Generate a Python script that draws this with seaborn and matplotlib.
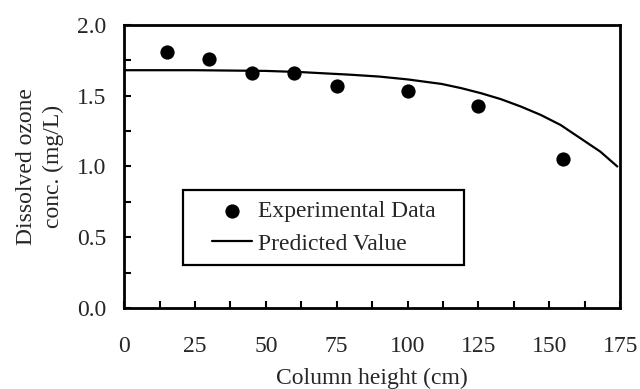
import matplotlib
matplotlib.use("Agg")
import matplotlib.pyplot as plt
from matplotlib.patches import Rectangle
from matplotlib.ticker import MultipleLocator
import seaborn as sns
import pandas as pd

# Measured dissolved ozone along the column
height_cm = [15, 30, 45, 60, 75, 100, 125, 155]
ozone_mg_l = [1.81, 1.76, 1.66, 1.66, 1.57, 1.53, 1.43, 1.05]

# Model prediction
pred_height_cm = [0, 25, 50, 62, 80, 90, 100, 112, 119, 126, 133, 140, 147,
                  154, 161, 168, 174]
pred_ozone_mg_l = [1.68, 1.68, 1.675, 1.667, 1.648, 1.635, 1.615, 1.583, 1.553,
                   1.517, 1.475, 1.423, 1.364, 1.293, 1.199, 1.105, 1.00]

x_ticks = [0, 25, 50, 75, 100, 125, 150, 175]
y_ticks = [0.0, 0.5, 1.0, 1.5, 2.0]

sns.set_style("ticks")
plt.rcParams["font.family"] = ["Liberation Serif", "DejaVu Serif"]
plt.rcParams["font.size"] = 17

exp_df = pd.DataFrame({"h": height_cm, "c": ozone_mg_l})
pred_df = pd.DataFrame({"h": pred_height_cm, "c": pred_ozone_mg_l})

fig = plt.figure(figsize=(6.4, 3.89), dpi=100)
ax = fig.add_axes([0.194, 0.208, 0.775, 0.728])

sns.scatterplot(data=exp_df, x="h", y="c", ax=ax, color="black", s=105,
                edgecolor="black", linewidth=0, zorder=3,
                label="Experimental Data")
sns.lineplot(data=pred_df, x="h", y="c", ax=ax, color="black", linewidth=1.6,
             zorder=2, label="Predicted Value")

ax.set_xlim(0, 175)
ax.set_ylim(0, 2.0)
ax.set_xticks(x_ticks)
ax.set_yticks(y_ticks)
ax.set_xticklabels([str(t) for t in x_ticks])
ax.set_yticklabels([f"{t:.1f}" for t in y_ticks])
ax.xaxis.set_minor_locator(MultipleLocator(12.5))
ax.yaxis.set_minor_locator(MultipleLocator(0.25))
ax.tick_params(axis="both", which="both", direction="in", color="black",
               width=1.5, top=False, right=False)
ax.tick_params(axis="both", which="major", length=5)
ax.tick_params(axis="both", which="minor", length=5)
ax.tick_params(axis="x", which="major", pad=20, labelsize=17)
ax.tick_params(axis="y", which="major", pad=13, labelsize=17)

for side in ["left", "right", "top", "bottom"]:
    ax.spines[side].set_visible(True)
    ax.spines[side].set_linewidth(2)
    ax.spines[side].set_color("black")

ax.set_xlabel("Column height (cm)", fontsize=17, labelpad=8)
ax.set_ylabel("Dissolved ozone\nconc. (mg/L)", fontsize=17, linespacing=1.35)
ax.yaxis.set_label_coords(-0.122, 0.5)

leg = ax.legend(loc="center", bbox_to_anchor=(0.402, 0.284), frameon=False,
                fontsize=17, handlelength=1.7, handletextpad=0.25,
                labelspacing=0.45, borderpad=0.2)
ax.add_patch(Rectangle((0.119, 0.152), 0.566, 0.265, transform=ax.transAxes,
                       fill=False, edgecolor="black", linewidth=1.6, zorder=4))

fig.savefig("out.png", dpi=100)
